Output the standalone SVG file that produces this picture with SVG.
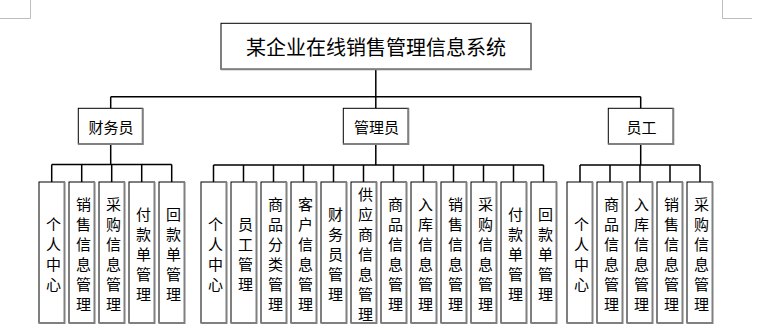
<svg xmlns="http://www.w3.org/2000/svg" width="770" height="330" viewBox="0 0 770 330">
<defs>
<style>
.bg{fill:#fff}
.box{fill:#fff;stroke:#000;stroke-width:1}
.sh{fill:none;stroke:#808080;stroke-width:2}
.ln{fill:none;stroke:#000;stroke-width:1.5}
.mk{fill:none;stroke:#bdbdbd;stroke-width:1}
.t{font-family:"Noto Sans CJK SC","Microsoft YaHei",sans-serif;fill:#000;text-anchor:middle;dominant-baseline:central}
.tt{font-size:20px}
.tn{font-size:15px}
</style>
</defs>
<rect class="bg" x="0" y="0" width="770" height="330"/>
<g id="marks">
<path class="mk" d="M30.5,0 V18.5 H0 M722.5,0 V18.5 H752"/>
</g>
<g id="connectors">
<path class="ln" d="M375.8,70 V108 M110.7,96.7 H640.7 M110.7,96.7 V108.3 M640.7,96.7 V108.3"/>
<path class="ln" d="M110.7,144 V164.5 M51.7,164.5 H171.7 M51.7,164.5 V182 M81.7,164.5 V182 M111.7,164.5 V182 M141.7,164.5 V182 M171.7,164.5 V182"/>
<path class="ln" d="M375.8,144 V165 M213.5,165 H543.5 M213.5,165 V182 M243.5,165 V182 M273.5,165 V182 M303.5,165 V182 M333.5,165 V182 M363.5,165 V182 M393.5,165 V182 M423.5,165 V182 M453.5,165 V182 M483.5,165 V182 M513.5,165 V182 M543.5,165 V182"/>
<path class="ln" d="M640.7,144 V165 M580,165 H700 M580,165 V182 M610,165 V182 M640,165 V182 M670,165 V182 M700,165 V182"/>
</g>
<g id="root">
<rect class="box" x="221" y="23.3" width="310" height="46"/>
<path class="sh" d="M531,23.3 V69.3 H221"/>
<text class="t tt" x="376" y="46">某企业在线销售管理信息系统</text>
</g>
<g id="caiwuyuan">
<rect class="box" x="78.3" y="108.3" width="64.4" height="35.7"/>
<path class="sh" d="M142.7,108.3 V144 H78.3"/>
<text class="t tn" x="111" y="126">财务员</text>
</g>
<g id="guanliyuan">
<rect class="box" x="343.3" y="108.3" width="65" height="35.7"/>
<path class="sh" d="M408.3,108.3 V144 H343.3"/>
<text class="t tn" x="376.5" y="126">管理员</text>
</g>
<g id="yuangong">
<rect class="box" x="608.3" y="108.3" width="65" height="35.7"/>
<path class="sh" d="M673.3,108.3 V144 H608.3"/>
<text class="t tn" x="641.5" y="126">员工</text>
</g>
<!-- finance children -->
<g id="f1"><rect class="box" x="39" y="182" width="25.5" height="141"/><path class="sh" d="M64.5,182 V323 H39"/>
<text class="t tn" x="53.5" y="222.5"><tspan x="53.5">个</tspan><tspan x="53.5" dy="20">人</tspan><tspan x="53.5" dy="20">中</tspan><tspan x="53.5" dy="20">心</tspan></text></g>
<g id="f2"><rect class="box" x="69" y="182" width="25.5" height="141"/><path class="sh" d="M94.5,182 V323 H69"/>
<text class="t tn" x="83.5" y="202.5"><tspan x="83.5">销</tspan><tspan x="83.5" dy="20">售</tspan><tspan x="83.5" dy="20">信</tspan><tspan x="83.5" dy="20">息</tspan><tspan x="83.5" dy="20">管</tspan><tspan x="83.5" dy="20">理</tspan></text></g>
<g id="f3"><rect class="box" x="99" y="182" width="25.5" height="141"/><path class="sh" d="M124.5,182 V323 H99"/>
<text class="t tn" x="113.5" y="202.5"><tspan x="113.5">采</tspan><tspan x="113.5" dy="20">购</tspan><tspan x="113.5" dy="20">信</tspan><tspan x="113.5" dy="20">息</tspan><tspan x="113.5" dy="20">管</tspan><tspan x="113.5" dy="20">理</tspan></text></g>
<g id="f4"><rect class="box" x="129" y="182" width="25.5" height="141"/><path class="sh" d="M154.5,182 V323 H129"/>
<text class="t tn" x="143.5" y="212.5"><tspan x="143.5">付</tspan><tspan x="143.5" dy="20">款</tspan><tspan x="143.5" dy="20">单</tspan><tspan x="143.5" dy="20">管</tspan><tspan x="143.5" dy="20">理</tspan></text></g>
<g id="f5"><rect class="box" x="159" y="182" width="25.5" height="141"/><path class="sh" d="M184.5,182 V323 H159"/>
<text class="t tn" x="173.5" y="212.5"><tspan x="173.5">回</tspan><tspan x="173.5" dy="20">款</tspan><tspan x="173.5" dy="20">单</tspan><tspan x="173.5" dy="20">管</tspan><tspan x="173.5" dy="20">理</tspan></text></g>
<!-- admin children -->
<g id="a1"><rect class="box" x="201" y="182" width="25.5" height="141"/><path class="sh" d="M226.5,182 V323 H201"/>
<text class="t tn" x="215.5" y="222.5"><tspan x="215.5">个</tspan><tspan x="215.5" dy="20">人</tspan><tspan x="215.5" dy="20">中</tspan><tspan x="215.5" dy="20">心</tspan></text></g>
<g id="a2"><rect class="box" x="231" y="182" width="25.5" height="141"/><path class="sh" d="M256.5,182 V323 H231"/>
<text class="t tn" x="245.5" y="222.5"><tspan x="245.5">员</tspan><tspan x="245.5" dy="20">工</tspan><tspan x="245.5" dy="20">管</tspan><tspan x="245.5" dy="20">理</tspan></text></g>
<g id="a3"><rect class="box" x="261" y="182" width="25.5" height="141"/><path class="sh" d="M286.5,182 V323 H261"/>
<text class="t tn" x="275.5" y="202.5"><tspan x="275.5">商</tspan><tspan x="275.5" dy="20">品</tspan><tspan x="275.5" dy="20">分</tspan><tspan x="275.5" dy="20">类</tspan><tspan x="275.5" dy="20">管</tspan><tspan x="275.5" dy="20">理</tspan></text></g>
<g id="a4"><rect class="box" x="291" y="182" width="25.5" height="141"/><path class="sh" d="M316.5,182 V323 H291"/>
<text class="t tn" x="305.5" y="202.5"><tspan x="305.5">客</tspan><tspan x="305.5" dy="20">户</tspan><tspan x="305.5" dy="20">信</tspan><tspan x="305.5" dy="20">息</tspan><tspan x="305.5" dy="20">管</tspan><tspan x="305.5" dy="20">理</tspan></text></g>
<g id="a5"><rect class="box" x="321" y="182" width="25.5" height="141"/><path class="sh" d="M346.5,182 V323 H321"/>
<text class="t tn" x="335.5" y="212.5"><tspan x="335.5">财</tspan><tspan x="335.5" dy="20">务</tspan><tspan x="335.5" dy="20">员</tspan><tspan x="335.5" dy="20">管</tspan><tspan x="335.5" dy="20">理</tspan></text></g>
<g id="a6"><rect class="box" x="351" y="182" width="25.5" height="141"/><path class="sh" d="M376.5,182 V323 H351"/>
<text class="t tn" x="365.5" y="192.5"><tspan x="365.5">供</tspan><tspan x="365.5" dy="20">应</tspan><tspan x="365.5" dy="20">商</tspan><tspan x="365.5" dy="20">信</tspan><tspan x="365.5" dy="20">息</tspan><tspan x="365.5" dy="20">管</tspan><tspan x="365.5" dy="20">理</tspan></text></g>
<g id="a7"><rect class="box" x="381" y="182" width="25.5" height="141"/><path class="sh" d="M406.5,182 V323 H381"/>
<text class="t tn" x="395.5" y="202.5"><tspan x="395.5">商</tspan><tspan x="395.5" dy="20">品</tspan><tspan x="395.5" dy="20">信</tspan><tspan x="395.5" dy="20">息</tspan><tspan x="395.5" dy="20">管</tspan><tspan x="395.5" dy="20">理</tspan></text></g>
<g id="a8"><rect class="box" x="411" y="182" width="25.5" height="141"/><path class="sh" d="M436.5,182 V323 H411"/>
<text class="t tn" x="425.5" y="202.5"><tspan x="425.5">入</tspan><tspan x="425.5" dy="20">库</tspan><tspan x="425.5" dy="20">信</tspan><tspan x="425.5" dy="20">息</tspan><tspan x="425.5" dy="20">管</tspan><tspan x="425.5" dy="20">理</tspan></text></g>
<g id="a9"><rect class="box" x="441" y="182" width="25.5" height="141"/><path class="sh" d="M466.5,182 V323 H441"/>
<text class="t tn" x="455.5" y="202.5"><tspan x="455.5">销</tspan><tspan x="455.5" dy="20">售</tspan><tspan x="455.5" dy="20">信</tspan><tspan x="455.5" dy="20">息</tspan><tspan x="455.5" dy="20">管</tspan><tspan x="455.5" dy="20">理</tspan></text></g>
<g id="a10"><rect class="box" x="471" y="182" width="25.5" height="141"/><path class="sh" d="M496.5,182 V323 H471"/>
<text class="t tn" x="485.5" y="202.5"><tspan x="485.5">采</tspan><tspan x="485.5" dy="20">购</tspan><tspan x="485.5" dy="20">信</tspan><tspan x="485.5" dy="20">息</tspan><tspan x="485.5" dy="20">管</tspan><tspan x="485.5" dy="20">理</tspan></text></g>
<g id="a11"><rect class="box" x="501" y="182" width="25.5" height="141"/><path class="sh" d="M526.5,182 V323 H501"/>
<text class="t tn" x="515.5" y="212.5"><tspan x="515.5">付</tspan><tspan x="515.5" dy="20">款</tspan><tspan x="515.5" dy="20">单</tspan><tspan x="515.5" dy="20">管</tspan><tspan x="515.5" dy="20">理</tspan></text></g>
<g id="a12"><rect class="box" x="531" y="182" width="25.5" height="141"/><path class="sh" d="M556.5,182 V323 H531"/>
<text class="t tn" x="545.5" y="212.5"><tspan x="545.5">回</tspan><tspan x="545.5" dy="20">款</tspan><tspan x="545.5" dy="20">单</tspan><tspan x="545.5" dy="20">管</tspan><tspan x="545.5" dy="20">理</tspan></text></g>
<!-- employee children -->
<g id="e1"><rect class="box" x="567" y="182" width="25.5" height="141"/><path class="sh" d="M592.5,182 V323 H567"/>
<text class="t tn" x="581.5" y="222.5"><tspan x="581.5">个</tspan><tspan x="581.5" dy="20">人</tspan><tspan x="581.5" dy="20">中</tspan><tspan x="581.5" dy="20">心</tspan></text></g>
<g id="e2"><rect class="box" x="597" y="182" width="25.5" height="141"/><path class="sh" d="M622.5,182 V323 H597"/>
<text class="t tn" x="611.5" y="202.5"><tspan x="611.5">商</tspan><tspan x="611.5" dy="20">品</tspan><tspan x="611.5" dy="20">信</tspan><tspan x="611.5" dy="20">息</tspan><tspan x="611.5" dy="20">管</tspan><tspan x="611.5" dy="20">理</tspan></text></g>
<g id="e3"><rect class="box" x="627" y="182" width="25.5" height="141"/><path class="sh" d="M652.5,182 V323 H627"/>
<text class="t tn" x="641.5" y="202.5"><tspan x="641.5">入</tspan><tspan x="641.5" dy="20">库</tspan><tspan x="641.5" dy="20">信</tspan><tspan x="641.5" dy="20">息</tspan><tspan x="641.5" dy="20">管</tspan><tspan x="641.5" dy="20">理</tspan></text></g>
<g id="e4"><rect class="box" x="657" y="182" width="25.5" height="141"/><path class="sh" d="M682.5,182 V323 H657"/>
<text class="t tn" x="671.5" y="202.5"><tspan x="671.5">销</tspan><tspan x="671.5" dy="20">售</tspan><tspan x="671.5" dy="20">信</tspan><tspan x="671.5" dy="20">息</tspan><tspan x="671.5" dy="20">管</tspan><tspan x="671.5" dy="20">理</tspan></text></g>
<g id="e5"><rect class="box" x="687" y="182" width="25.5" height="141"/><path class="sh" d="M712.5,182 V323 H687"/>
<text class="t tn" x="701.5" y="202.5"><tspan x="701.5">采</tspan><tspan x="701.5" dy="20">购</tspan><tspan x="701.5" dy="20">信</tspan><tspan x="701.5" dy="20">息</tspan><tspan x="701.5" dy="20">管</tspan><tspan x="701.5" dy="20">理</tspan></text></g>
</svg>
